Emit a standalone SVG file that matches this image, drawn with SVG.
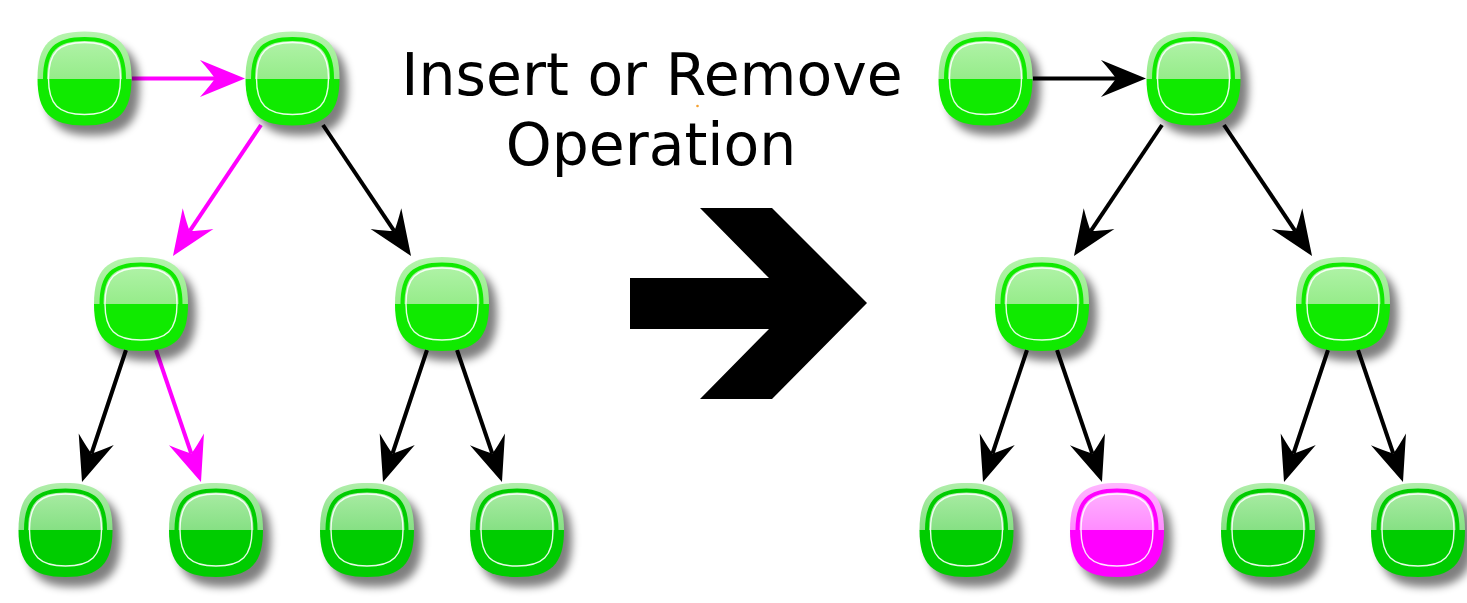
<svg xmlns="http://www.w3.org/2000/svg" xmlns:xlink="http://www.w3.org/1999/xlink" width="1467" height="603" viewBox="0 0 1467 603">
<style>
.shadow{fill:#000;stroke:none;opacity:0.5;filter:url(#blur)}
.body{stroke:none}
.ring{fill:none;stroke-width:4}
.hl{fill:none;stroke:#fff;stroke-width:1.4;opacity:0.9}
.g .body{fill:url(#gG)} .g .ring{stroke:#10ea00}
.d .body{fill:url(#gD)} .d .ring{stroke:#00cc00}
.p .body{fill:url(#gP)} .p .ring{stroke:#ff00ff}
.conn line{stroke-width:4;fill:none}
.blk{stroke:#000;marker-end:url(#ahB)}
.mag{stroke:#ff00ff;marker-end:url(#ahM)}
.label{font-family:"DejaVu Sans","Liberation Sans",sans-serif;font-size:58.4px;fill:#000;text-anchor:middle}
</style>
<defs>
<filter id="blur" x="-30%" y="-30%" width="160%" height="160%"><feGaussianBlur stdDeviation="4.5"/></filter>
<linearGradient id="gG" x1="0" y1="0" x2="0" y2="1">
<stop offset="0" stop-color="#b6f4ae"/><stop offset="0.5" stop-color="#96ec8a"/><stop offset="0.5" stop-color="#10ea00"/><stop offset="1" stop-color="#10ea00"/>
</linearGradient>
<linearGradient id="gD" x1="0" y1="0" x2="0" y2="1">
<stop offset="0" stop-color="#b0eeaa"/><stop offset="0.5" stop-color="#86e084"/><stop offset="0.5" stop-color="#00cc00"/><stop offset="1" stop-color="#00cc00"/>
</linearGradient>
<linearGradient id="gP" x1="0" y1="0" x2="0" y2="1">
<stop offset="0" stop-color="#ffb8ff"/><stop offset="0.5" stop-color="#ff8cff"/><stop offset="0.5" stop-color="#ff00ff"/><stop offset="1" stop-color="#ff00ff"/>
</linearGradient>
<path id="sqO" d="M-47,0 C-47,-34 -34,-47 0,-47 C34,-47 47,-34 47,0 C47,34 34,47 0,47 C-34,47 -47,34 -47,0 Z"/>
<path id="sqR" d="M-39.5,0 C-39.5,-28.6 -28.6,-39.5 0,-39.5 C28.6,-39.5 39.5,-28.6 39.5,0 C39.5,28.6 28.6,39.5 0,39.5 C-28.6,39.5 -39.5,28.6 -39.5,0 Z"/>
<path id="sqH" d="M-36,0 C-36,-26 -26,-36 0,-36 C26,-36 36,-26 36,0 C36,26 26,36 0,36 C-26,36 -36,26 -36,0 Z"/>
<marker id="ahB" markerUnits="userSpaceOnUse" orient="auto" refX="0" refY="0" markerWidth="1" markerHeight="1" overflow="visible">
<path d="M30,0 L-15,-18.5 Q-4,-6 0,0 Q-4,6 -15,18.5 Z" fill="#000" stroke="none"/>
</marker>
<marker id="ahM" markerUnits="userSpaceOnUse" orient="auto" refX="0" refY="0" markerWidth="1" markerHeight="1" overflow="visible">
<path d="M30,0 L-15,-18.5 Q-4,-6 0,0 Q-4,6 -15,18.5 Z" fill="#ff00ff" stroke="none"/>
</marker>
</defs>
<rect width="1467" height="603" fill="#fff"/>

<g id="connectors" class="conn">
<line class="mag" x1="132" y1="78.5" x2="215" y2="78.5"/>
<line class="mag" x1="261" y1="125" x2="189.7" y2="231.1"/>
<line class="blk" x1="323" y1="125" x2="394.3" y2="231.1"/>
<line class="blk" x1="126" y1="350" x2="91.5" y2="453.5"/>
<line class="mag" x1="156" y1="350" x2="191.3" y2="453.6"/>
<line class="blk" x1="427" y1="350" x2="392.5" y2="453.5"/>
<line class="blk" x1="457" y1="350" x2="492.3" y2="453.6"/>

<line class="blk" x1="1033" y1="78.5" x2="1116" y2="78.5"/>
<line class="blk" x1="1162" y1="125" x2="1090.7" y2="231.1"/>
<line class="blk" x1="1224" y1="125" x2="1295.3" y2="231.1"/>
<line class="blk" x1="1027" y1="350" x2="992.5" y2="453.5"/>
<line class="blk" x1="1057" y1="350" x2="1092.3" y2="453.6"/>
<line class="blk" x1="1328" y1="350" x2="1293.5" y2="453.5"/>
<line class="blk" x1="1358" y1="350" x2="1393.3" y2="453.6"/>
</g>

<g id="L-A" class="g" transform="translate(84.5,78.5)"><use xlink:href="#sqO" class="shadow" x="8" y="10"/><use xlink:href="#sqO" class="body"/><use xlink:href="#sqR" class="ring"/><use xlink:href="#sqH" class="hl"/></g>
<g id="L-B" class="g" transform="translate(292.5,78.5)"><use xlink:href="#sqO" class="shadow" x="8" y="10"/><use xlink:href="#sqO" class="body"/><use xlink:href="#sqR" class="ring"/><use xlink:href="#sqH" class="hl"/></g>
<g id="L-C" class="g" transform="translate(141,304)"><use xlink:href="#sqO" class="shadow" x="8" y="10"/><use xlink:href="#sqO" class="body"/><use xlink:href="#sqR" class="ring"/><use xlink:href="#sqH" class="hl"/></g>
<g id="L-D" class="g" transform="translate(442,304)"><use xlink:href="#sqO" class="shadow" x="8" y="10"/><use xlink:href="#sqO" class="body"/><use xlink:href="#sqR" class="ring"/><use xlink:href="#sqH" class="hl"/></g>
<g id="L-E" class="d" transform="translate(65.5,530)"><use xlink:href="#sqO" class="shadow" x="8" y="10"/><use xlink:href="#sqO" class="body"/><use xlink:href="#sqR" class="ring"/><use xlink:href="#sqH" class="hl"/></g>
<g id="L-F" class="d" transform="translate(216,530)"><use xlink:href="#sqO" class="shadow" x="8" y="10"/><use xlink:href="#sqO" class="body"/><use xlink:href="#sqR" class="ring"/><use xlink:href="#sqH" class="hl"/></g>
<g id="L-G" class="d" transform="translate(367,530)"><use xlink:href="#sqO" class="shadow" x="8" y="10"/><use xlink:href="#sqO" class="body"/><use xlink:href="#sqR" class="ring"/><use xlink:href="#sqH" class="hl"/></g>
<g id="L-H" class="d" transform="translate(517,530)"><use xlink:href="#sqO" class="shadow" x="8" y="10"/><use xlink:href="#sqO" class="body"/><use xlink:href="#sqR" class="ring"/><use xlink:href="#sqH" class="hl"/></g>

<g id="R-A" class="g" transform="translate(985.5,78.5)"><use xlink:href="#sqO" class="shadow" x="8" y="10"/><use xlink:href="#sqO" class="body"/><use xlink:href="#sqR" class="ring"/><use xlink:href="#sqH" class="hl"/></g>
<g id="R-B" class="g" transform="translate(1193.5,78.5)"><use xlink:href="#sqO" class="shadow" x="8" y="10"/><use xlink:href="#sqO" class="body"/><use xlink:href="#sqR" class="ring"/><use xlink:href="#sqH" class="hl"/></g>
<g id="R-C" class="g" transform="translate(1042,304)"><use xlink:href="#sqO" class="shadow" x="8" y="10"/><use xlink:href="#sqO" class="body"/><use xlink:href="#sqR" class="ring"/><use xlink:href="#sqH" class="hl"/></g>
<g id="R-D" class="g" transform="translate(1343,304)"><use xlink:href="#sqO" class="shadow" x="8" y="10"/><use xlink:href="#sqO" class="body"/><use xlink:href="#sqR" class="ring"/><use xlink:href="#sqH" class="hl"/></g>
<g id="R-E" class="d" transform="translate(966.5,530)"><use xlink:href="#sqO" class="shadow" x="8" y="10"/><use xlink:href="#sqO" class="body"/><use xlink:href="#sqR" class="ring"/><use xlink:href="#sqH" class="hl"/></g>
<g id="R-F" class="p" transform="translate(1117,530)"><use xlink:href="#sqO" class="shadow" x="8" y="10"/><use xlink:href="#sqO" class="body"/><use xlink:href="#sqR" class="ring"/><use xlink:href="#sqH" class="hl"/></g>
<g id="R-G" class="d" transform="translate(1268,530)"><use xlink:href="#sqO" class="shadow" x="8" y="10"/><use xlink:href="#sqO" class="body"/><use xlink:href="#sqR" class="ring"/><use xlink:href="#sqH" class="hl"/></g>
<g id="R-H" class="d" transform="translate(1418,530)"><use xlink:href="#sqO" class="shadow" x="8" y="10"/><use xlink:href="#sqO" class="body"/><use xlink:href="#sqR" class="ring"/><use xlink:href="#sqH" class="hl"/></g>

<g id="operation">
<text class="label" x="652" y="95">Insert or Remove</text>
<text class="label" x="651" y="165">Operation</text>
<circle cx="697.5" cy="106" r="1.3" fill="#f5a030"/>
<polygon points="630,278 769,278 700,208 772,208 867,303 772,399 700,399 769,329 630,329" fill="#000"/>
</g>
</svg>
